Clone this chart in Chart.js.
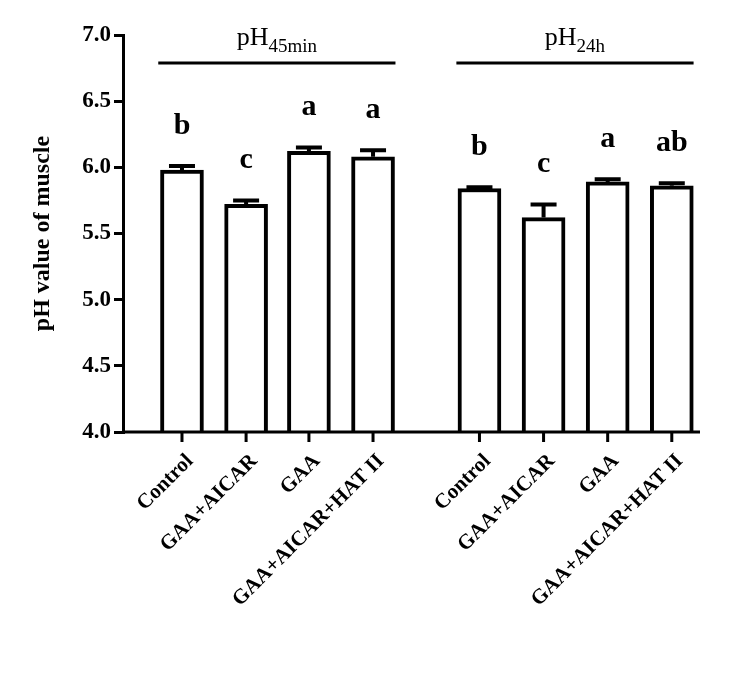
<!DOCTYPE html>
<html>
<head>
<meta charset="utf-8">
<script src="https://cdn.jsdelivr.net/npm/chart.js@4"></script>
<style>
  body { margin: 0; background: #fff; }
  #wrap { width: 752px; height: 694px; }
</style>
</head>
<body>
<div id="wrap"><canvas id="c"></canvas></div>
<script>
const labels = ["Control", "GAA+AICAR", "GAA", "GAA+AICAR+HAT II", "Control", "GAA+AICAR", "GAA", "GAA+AICAR+HAT II"];
const slots = [0.92, 1.92, 2.9, 3.9, 5.56, 6.56, 7.56, 8.56];
const values = [5.98, 5.72, 6.12, 6.08, 5.84, 5.62, 5.89, 5.86];
const errors = [0.03, 0.03, 0.03, 0.05, 0.01, 0.10, 0.02, 0.02];
const letters = ["b", "c", "a", "a", "b", "c", "a", "ab"];
const groups = [
  { main: "pH", sub: "45min", from: 0.55, to: 4.25 },
  { main: "pH", sub: "24h", from: 5.2, to: 8.9 },
];
const serif = "'Liberation Serif', 'DejaVu Serif', serif";

const decor = {
  id: "decor",
  afterDatasetsDraw(chart) {
    const { ctx, scales: { x, y }, chartArea } = chart;
    ctx.save();
    ctx.strokeStyle = "#000";
    ctx.fillStyle = "#000";
    // x axis line and ticks
    ctx.lineWidth = 3;
    ctx.beginPath();
    ctx.moveTo(chartArea.left, chartArea.bottom);
    ctx.lineTo(chartArea.right, chartArea.bottom);
    slots.forEach((s) => {
      const px = x.getPixelForValue(s);
      ctx.moveTo(px, chartArea.bottom);
      ctx.lineTo(px, chartArea.bottom + 10);
    });
    ctx.stroke();
    // error bars (upper only)
    values.forEach((v, i) => {
      const px = x.getPixelForValue(slots[i]);
      const top = y.getPixelForValue(v);
      const tip = y.getPixelForValue(v + errors[i]);
      ctx.lineWidth = 4;
      ctx.beginPath();
      ctx.moveTo(px, top);
      ctx.lineTo(px, tip);
      ctx.moveTo(px - 13, tip);
      ctx.lineTo(px + 13, tip);
      ctx.stroke();
      ctx.font = "bold 30px " + serif;
      ctx.textAlign = "center";
      ctx.textBaseline = "alphabetic";
      ctx.fillText(letters[i], px, tip - 32);
    });
    // category labels
    ctx.font = "bold 21px " + serif;
    ctx.textAlign = "right";
    ctx.textBaseline = "middle";
    labels.forEach((l, i) => {
      const px = x.getPixelForValue(slots[i]);
      ctx.save();
      ctx.translate(px + 8, chartArea.bottom + 26);
      ctx.rotate(-Math.PI / 4);
      ctx.fillText(l, 0, 0);
      ctx.restore();
    });
    // group headings
    groups.forEach((g) => {
      const a = x.getPixelForValue(g.from);
      const b = x.getPixelForValue(g.to);
      ctx.lineWidth = 3;
      ctx.beginPath();
      ctx.moveTo(a, 63);
      ctx.lineTo(b, 63);
      ctx.stroke();
      ctx.textAlign = "left";
      ctx.textBaseline = "alphabetic";
      ctx.font = "26px " + serif;
      const w1 = ctx.measureText(g.main).width;
      ctx.font = "19px " + serif;
      const w2 = ctx.measureText(g.sub).width;
      const start = (a + b) / 2 - (w1 + w2) / 2;
      ctx.font = "26px " + serif;
      ctx.fillText(g.main, start, 45);
      ctx.font = "19px " + serif;
      ctx.fillText(g.sub, start + w1, 52);
    });
    ctx.restore();
  },
};

new Chart(document.getElementById("c"), {
  type: "bar",
  data: {
    datasets: [{
      data: slots.map((s, i) => ({ x: s, y: values[i] })),
      backgroundColor: "#fff",
      borderColor: "#000",
      borderWidth: 4,
      borderSkipped: "bottom",
      barThickness: 43,
    }],
  },
  options: {
    responsive: true,
    maintainAspectRatio: false,
    animation: false,
    layout: { padding: { top: 35, right: 52, bottom: 262, left: 28 } },
    plugins: { legend: { display: false }, tooltip: { enabled: false } },
    scales: {
      x: { type: "linear", min: 0, max: 9, offset: false, display: false },
      y: {
        min: 4, max: 7,
        afterFit: (s) => { s.width = 95; },
        ticks: { stepSize: 0.5, color: "#000", font: { family: serif, weight: "bold", size: 23 }, callback: (v) => v.toFixed(1), padding: 3 },
        grid: { drawOnChartArea: false, color: "#000", lineWidth: 3, tickLength: 9 },
        border: { color: "#000", width: 3 },
        title: { display: true, text: "pH value of muscle", color: "#000", font: { family: serif, weight: "bold", size: 24 }, padding: 0 },
      },
    },
  },
  plugins: [decor],
});
</script>
</body>
</html>
